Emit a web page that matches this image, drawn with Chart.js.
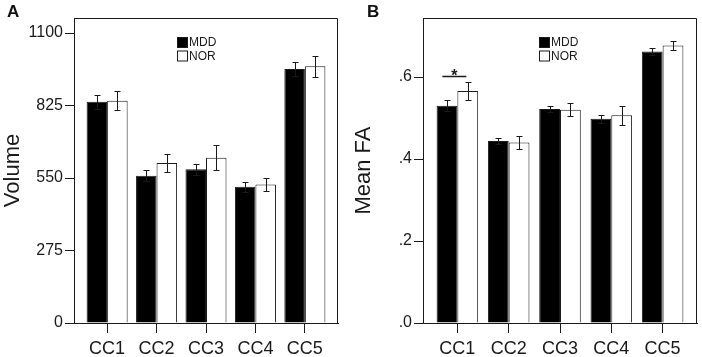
<!DOCTYPE html>
<html>
<head>
<meta charset="utf-8">
<script src="https://cdn.jsdelivr.net/npm/chart.js@4.4.1/dist/chart.umd.min.js"></script>
<style>
  html, body { margin: 0; padding: 0; background: #fff; }
  #wrap { position: relative; width: 702px; height: 357px; overflow: hidden; }
  canvas { position: absolute; top: 0; }
  #cA { left: 0; }
  #cB { left: 351px; }
  .panel { position: absolute; top: 2px; font: bold 17px "Liberation Sans", Arial, sans-serif; color: #111; }
</style>
</head>
<body>
<div id="wrap">
  <canvas id="cA" width="351" height="357"></canvas>
  <canvas id="cB" width="351" height="357"></canvas>
  <div class="panel" style="left:7px">A</div>
  <div class="panel" style="left:367px">B</div>
</div>
<script>
// ---- data ----
const categories = ['CC1', 'CC2', 'CC3', 'CC4', 'CC5'];
const seriesNames = ['MDD', 'NOR'];

const volumeMDD = [839, 559, 583, 517, 964];
const volumeMDDErr = [26, 21, 21, 19, 27];
const volumeNOR = [843, 607, 627, 525, 974];
const volumeNORErr = [36, 35, 47, 26, 40];
const volumeTicks = [0, 275, 550, 825, 1100];

const faMDD = [0.530, 0.444, 0.522, 0.498, 0.662];
const faMDDErr = [0.013, 0.008, 0.008, 0.010, 0.008];
const faNOR = [0.566, 0.440, 0.520, 0.507, 0.677];
const faNORErr = [0.021, 0.016, 0.016, 0.023, 0.012];
const faTicks = [0, 0.2, 0.4, 0.6];
const faSignificance = ['*', '', '', '', ''];

// ---- style ----
const FONT = '"Liberation Sans", Arial, sans-serif';
const INK = '#1a1a1a';

const errorBarsPlugin = {
  id: 'errorBars',
  afterDatasetsDraw(chart) {
    const ctx = chart.ctx, ys = chart.scales.y;
    ctx.save();
    ctx.strokeStyle = INK;
    ctx.lineWidth = 1;
    chart.data.datasets.forEach((ds, di) => {
      const meta = chart.getDatasetMeta(di);
      meta.data.forEach((bar, i) => {
        const v = ds.data[i].y, e = ds.errors[i];
        const x = Math.round(bar.x) + 0.5;
        const yt = Math.round(ys.getPixelForValue(v + e)) + 0.5;
        const yb = Math.round(ys.getPixelForValue(v - e)) + 0.5;
        ctx.beginPath();
        ctx.moveTo(x, yt); ctx.lineTo(x, yb);
        ctx.moveTo(x - 3, yt); ctx.lineTo(x + 3, yt);
        ctx.moveTo(x - 3, yb); ctx.lineTo(x + 3, yb);
        ctx.stroke();
      });
    });
    ctx.restore();
  }
};

const framePlugin = {
  id: 'frame',
  afterDraw(chart) {
    const a = chart.chartArea, ctx = chart.ctx;
    ctx.save();
    ctx.strokeStyle = INK;
    ctx.lineWidth = 1;
    ctx.beginPath();
    const l = Math.round(a.left) + 0.5, r = Math.round(a.right) - 0.5;
    const t = Math.round(a.top) + 0.5, b = Math.round(a.bottom);
    ctx.moveTo(l, t); ctx.lineTo(r, t); ctx.lineTo(r, b);
    ctx.stroke();
    ctx.restore();
  }
};

const boxLegendPlugin = {
  id: 'boxLegend',
  afterDraw(chart, args, opts) {
    const a = chart.chartArea, ctx = chart.ctx;
    ctx.save();
    ctx.font = '12px ' + FONT;
    ctx.textBaseline = 'middle';
    chart.data.datasets.forEach((ds, i) => {
      const x = a.left + opts.dx, y = a.top + opts.dy + i * 13.5;
      ctx.fillStyle = ds.backgroundColor;
      ctx.fillRect(x, y, 11, 10);
      ctx.strokeStyle = INK;
      ctx.lineWidth = 1;
      ctx.strokeRect(x + 0.5, y + 0.5, 10, 10);
      ctx.fillStyle = INK;
      ctx.fillText(ds.label, x + 12, y + 6);
    });
    ctx.restore();
  }
};

const sigPlugin = {
  id: 'sig',
  afterDatasetsDraw(chart, args, opts) {
    if (!opts.marks) return;
    const ctx = chart.ctx, xs = chart.scales.x, ys = chart.scales.y;
    const ds = chart.data.datasets[1];
    ctx.save();
    ctx.strokeStyle = INK;
    ctx.fillStyle = INK;
    ctx.lineWidth = 1.5;
    opts.marks.forEach((m, i) => {
      if (!m) return;
      const cx = xs.getPixelForValue(i + 1) - 3;
      const top = ys.getPixelForValue(ds.data[i].y + ds.errors[i]);
      const ly = Math.round(top - 6) + 0.5;
      ctx.beginPath();
      ctx.moveTo(cx - 12, ly); ctx.lineTo(cx + 12, ly);
      ctx.stroke();
      ctx.font = 'bold 16px ' + FONT;
      ctx.textAlign = 'center';
      ctx.textBaseline = 'alphabetic';
      ctx.fillText(m, cx, ly + 4);
    });
    ctx.restore();
  }
};

function makeChart(id, cfg) {
  const toPts = arr => arr.map((v, i) => ({ x: i + 1, y: v }));
  return new Chart(document.getElementById(id), {
    type: 'bar',
    data: {
      datasets: [
        { label: seriesNames[0], data: toPts(cfg.mdd), errors: cfg.mddErr,
          backgroundColor: '#000000', borderColor: INK, borderWidth: 1 },
        { label: seriesNames[1], data: toPts(cfg.nor), errors: cfg.norErr,
          backgroundColor: '#ffffff', borderColor: INK, borderWidth: 1 }
      ]
    },
    options: {
      responsive: false,
      animation: false,
      devicePixelRatio: 1,
      categoryPercentage: cfg.catPct,
      barPercentage: 1.0,
      layout: { padding: { top: 18, right: cfg.padRight, bottom: 0, left: 0 } },
      plugins: {
        legend: { display: false },
        tooltip: { enabled: false },
        boxLegend: { dx: cfg.legendDx, dy: 19 },
        sig: { marks: cfg.sig }
      },
      scales: {
        x: {
          type: 'linear',
          offset: false,
          min: 0.33, max: 5.67,
          afterBuildTicks: s => { s.ticks = categories.map((c, i) => ({ value: i + 1 })); },
          afterFit: s => { s.height = 34; },
          ticks: {
            autoSkip: false, maxRotation: 0, padding: 5,
            color: INK, font: { family: FONT, size: 18 },
            callback: v => categories[v - 1]
          },
          grid: { offset: false, drawOnChartArea: false, drawTicks: true, tickLength: 10, color: INK },
          border: { display: true, color: INK }
        },
        y: {
          min: 0, max: cfg.ymax,
          afterBuildTicks: s => { s.ticks = cfg.ticks.map(v => ({ value: v })); },
          afterFit: s => { s.width = cfg.yWidth; },
          ticks: {
            padding: 2, color: INK, font: { family: FONT, size: 16 },
            callback: cfg.tickFmt
          },
          grid: { drawOnChartArea: false, drawTicks: true, tickLength: 9, color: INK },
          border: { display: true, color: INK },
          title: { display: true, text: cfg.title, color: INK,
                   font: { family: FONT, size: 22 }, padding: { top: 0, bottom: 0 } }
        }
      }
    },
    plugins: [errorBarsPlugin, framePlugin, boxLegendPlugin, sigPlugin]
  });
}

makeChart('cA', {
  mdd: volumeMDD, mddErr: volumeMDDErr, nor: volumeNOR, norErr: volumeNORErr,
  ymax: 1157, ticks: volumeTicks, tickFmt: v => String(v), title: 'Volume',
  yWidth: 74, padRight: 13, catPct: 0.83, legendDx: 103, sig: null
});

makeChart('cB', {
  mdd: faMDD, mddErr: faMDDErr, nor: faNOR, norErr: faNORErr,
  ymax: 0.744, ticks: faTicks, tickFmt: v => v.toFixed(1).replace(/^0/, ''), title: 'Mean FA',
  yWidth: 72, padRight: 5, catPct: 0.81, legendDx: 116, sig: faSignificance
});
</script>
</body>
</html>
